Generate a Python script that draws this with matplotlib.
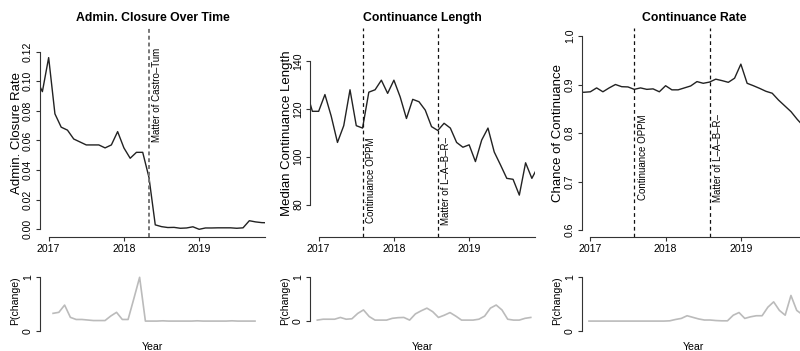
import matplotlib
matplotlib.use("Agg")
import matplotlib.pyplot as plt
import numpy as np
import pandas as pd

plt.rcParams["font.family"] = ["Liberation Sans", "DejaVu Sans"]

# monthly series, Nov 2016 - Dec 2019
dates = pd.date_range("2016-11-01", "2019-12-01", freq="MS")
t = dates.year + (dates.month - 1) / 12.0

admin_closure = [0.102, 0.093, 0.116, 0.078, 0.069, 0.067, 0.061, 0.059, 0.057, 0.057,
                 0.057, 0.055, 0.057, 0.066, 0.055, 0.048, 0.052, 0.052, 0.035, 0.003,
                 0.0018, 0.0012, 0.0013, 0.0007, 0.0009, 0.0017, 0.0, 0.0009, 0.0009, 0.001,
                 0.001, 0.001, 0.0007, 0.001, 0.0058, 0.005, 0.0045, 0.0044]
cont_length = [128, 119, 119, 126, 117, 106, 113, 128, 113, 112,
               127, 128, 132, 126.5, 132, 125, 116, 124, 123, 119.5,
               112.6, 111, 114, 112, 106, 104, 105, 98, 107, 112,
               102, 96.6, 91, 90.6, 84, 97.5, 91, 96]
cont_rate = [0.884, 0.884, 0.885, 0.893, 0.885, 0.893, 0.900, 0.8955, 0.895, 0.890,
             0.893, 0.890, 0.891, 0.885, 0.8975, 0.889, 0.889, 0.893, 0.897, 0.906,
             0.9025, 0.905, 0.911, 0.908, 0.9045, 0.913, 0.942, 0.9025, 0.8975, 0.892,
             0.886, 0.882, 0.868, 0.856, 0.844, 0.828, 0.814, 0.80]

# change-point probabilities, same months by index
p_admin = [np.nan, 0.325, 0.344, 0.48, 0.25, 0.21, 0.21, 0.2, 0.19, 0.19,
           0.19, 0.275, 0.344, 0.21, 0.21, 0.6, 1.0, 0.18, 0.18, 0.18,
           0.185, 0.18, 0.18, 0.18, 0.18, 0.18, 0.185, 0.18, 0.18, 0.18,
           0.18, 0.18, 0.185, 0.18, 0.18, 0.18, 0.18, np.nan]
p_length = [0.02, 0.04, 0.04, 0.04, 0.08, 0.04, 0.05, 0.17, 0.25, 0.10,
            0.02, 0.02, 0.02, 0.06, 0.075, 0.08, 0.02, 0.16, 0.23, 0.29,
            0.21, 0.08, 0.13, 0.19, 0.11, 0.02, 0.02, 0.02, 0.04, 0.11,
            0.29, 0.36, 0.25, 0.04, 0.02, 0.02, 0.06, 0.08]
p_rate = [0.18, 0.18, 0.18, 0.18, 0.18, 0.18, 0.18, 0.18, 0.18, 0.18,
          0.18, 0.18, 0.18, 0.18, 0.185, 0.21, 0.23, 0.28, 0.25, 0.22,
          0.2, 0.2, 0.19, 0.185, 0.185, 0.29, 0.34, 0.23, 0.26, 0.28,
          0.28, 0.44, 0.54, 0.38, 0.29, 0.66, 0.38, 0.3]

titles = ["Admin. Closure Over Time", "Continuance Length", "Continuance Rate"]
ylabels = ["Admin. Closure Rate", "Median Continuance Length", "Chance of Continuance"]
series = [admin_closure, cont_length, cont_rate]
pchange = [p_admin, p_length, p_rate]
yticks = [[0, 0.02, 0.04, 0.06, 0.08, 0.10, 0.12], [80, 100, 120, 140], [0.6, 0.7, 0.8, 0.9, 1.0]]
ytick_fmt = ["{:.2f}", "{:.0f}", "{:.1f}"]
ylims = [(-0.0052, 0.136), (66.5, 153.8), (0.5856, 1.0165)]
p_ylims = [(-0.137, 1.137), (-0.384, 1.151), (-0.137, 1.137)]

# policy events: (decimal date, label, label y in axes fraction, anchored at top?)
events = [
    [(2018 + 4 / 12, "Matter of Castro\u2013Tum", 0.904, True)],
    [(2017 + 7 / 12, "Continuance OPPM", 0.067, False),
     (2018 + 7 / 12, "Matter of L\u2013A\u2013B\u2013R\u2013", 0.057, False)],
    [(2017 + 7 / 12, "Continuance OPPM", 0.177, False),
     (2018 + 7 / 12, "Matter of L\u2013A\u2013B\u2013R\u2013", 0.169, False)],
]

W, H = 800, 351
fig = plt.figure(figsize=(W / 100, H / 100), dpi=100)


def add_ax(left, top, width, height):
    return fig.add_axes([left / W, 1 - (top + height) / H, width / W, height / H])


lefts = [40, 310, 581.7]
ylab_x = [17, 287, 558]
xl = (2016.885, 2019.875)

for i in range(3):
    ax = add_ax(lefts[i], 28, 225, 209)
    ax.plot(t, series[i], color="#222222", lw=1.0)
    ax.set_xlim(xl)
    ax.set_ylim(ylims[i])
    for spine in ["top", "right"]:
        ax.spines[spine].set_visible(False)
    ax.spines["left"].set_bounds(yticks[i][0], yticks[i][-1])
    ax.spines["bottom"].set_bounds(2017, xl[1])
    ax.set_yticks(yticks[i])
    ax.set_yticklabels([ytick_fmt[i].format(v) for v in yticks[i]], rotation=90, va="center")
    ax.set_xticks([2017, 2018, 2019])
    ax.set_xticklabels(["2017", "2018", "2019"])
    ax.tick_params(length=3, width=0.8, labelsize=7.6, pad=2, color="#333333")
    for s in ["left", "bottom"]:
        ax.spines[s].set_linewidth(0.8)
        ax.spines[s].set_color("#333333")
    ax.set_title(titles[i], fontweight="bold", fontsize=8.8, pad=5)
    fig.text(ylab_x[i] / W, 1 - 133 / H, ylabels[i], rotation=90,
             ha="center", va="center", fontsize=9.5)

    for ev, lab, yf, top in events[i]:
        if i == 0:
            ax.axvline(ev, color="#777777", lw=1.4, dashes=(2, 1.5))
        else:
            ax.axvline(ev, color="#111111", lw=0.9, dashes=(3, 2.5))
        ax.annotate(lab, xy=(ev, yf), xycoords=("data", "axes fraction"),
                    xytext=(2.5, 0), textcoords="offset points", rotation=90,
                    ha="left", va="top" if top else "bottom", fontsize=7)

    # change-point probability underneath
    bx = add_ax(lefts[i], 270, 225, 68)
    bx.plot(np.arange(len(pchange[i])), pchange[i], color="#bbbbbb", lw=1.2)
    bx.set_xlim(-1.265, 37.73)
    bx.set_ylim(p_ylims[i])
    for spine in ["top", "right", "bottom"]:
        bx.spines[spine].set_visible(False)
    bx.spines["left"].set_bounds(0, 1)
    bx.spines["left"].set_linewidth(0.8)
    bx.spines["left"].set_color("#333333")
    bx.set_xticks([])
    bx.set_yticks([0, 1])
    bx.set_yticklabels(["0", "1"], rotation=90, va="center")
    bx.tick_params(length=3, width=0.8, labelsize=7.6, pad=2, color="#333333")
    fig.text((lefts[i] - 25) / W, 1 - 301 / H, "P(change)", rotation=90,
             ha="center", va="center", fontsize=7.6)
    fig.text((lefts[i] + 112) / W, 1 - 347 / H, "Year", ha="center", va="center", fontsize=7.6)

fig.savefig("out.png", dpi=100)
